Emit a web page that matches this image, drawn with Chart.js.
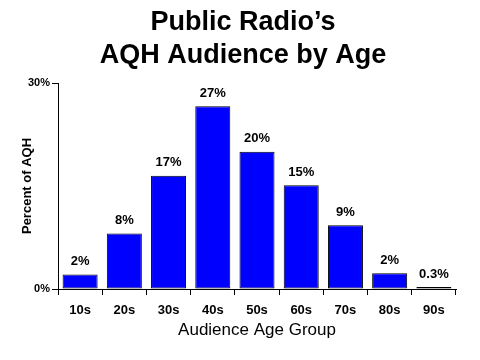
<!DOCTYPE html>
<html>
<head>
<meta charset="utf-8">
<script src="https://cdn.jsdelivr.net/npm/chart.js@4.4.1/dist/chart.umd.min.js"></script>
<style>
html,body{margin:0;padding:0;background:#fff;}
#wrap{width:480px;height:360px;}
</style>
</head>
<body>
<div id="wrap"><canvas id="c" width="480" height="360"></canvas></div>
<script>
const categories = ['10s','20s','30s','40s','50s','60s','70s','80s','90s'];
const audienceShare = [2.1, 8.1, 16.5, 26.6, 20.0, 15.1, 9.3, 2.3, 0.3];
const valueLabels = ['2%','8%','17%','27%','20%','15%','9%','2%','0.3%'];
const yTicks = [0, 30];
const titleLines = ['Public Radio\u2019s', 'AQH Audience by Age'];

const FONT = '"Liberation Sans", Arial, sans-serif';

const valueLabelPlugin = {
  id: 'valueLabels',
  afterDatasetsDraw(chart) {
    const ctx = chart.ctx;
    const meta = chart.getDatasetMeta(0);
    ctx.save();
    ctx.font = 'bold 13px ' + FONT;
    ctx.fillStyle = '#000';
    ctx.textAlign = 'center';
    ctx.textBaseline = 'middle';
    meta.data.forEach((bar, i) => {
      ctx.fillText(valueLabels[i], bar.x, bar.y - 13);
    });
    ctx.restore();
  }
};

const titlePlugin = {
  id: 'twoLineTitle',
  afterDraw(chart) {
    const ctx = chart.ctx;
    ctx.save();
    ctx.font = 'bold 27px ' + FONT;
    ctx.fillStyle = '#000';
    ctx.textAlign = 'center';
    ctx.textBaseline = 'middle';
    ctx.fillText(titleLines[0], 243, 23);
    ctx.fillText(titleLines[1], 243, 56);
    ctx.restore();
  }
};

new Chart(document.getElementById('c'), {
  type: 'bar',
  data: {
    labels: categories,
    datasets: [{
      data: audienceShare,
      backgroundColor: '#0000FF',
      borderColor: '#000000',
      borderWidth: 1,
      borderSkipped: false,
      categoryPercentage: 0.8,
      barPercentage: 0.99
    }]
  },
  options: {
    responsive: false,
    animation: false,
    devicePixelRatio: 1,
    layout: { padding: { left: 20, right: 24, top: 83, bottom: 19 } },
    plugins: {
      legend: { display: false },
      tooltip: { enabled: false },
      title: { display: false }
    },
    scales: {
      x: {
        afterFit(scale) { scale.height = 52; },
        grid: { display: true, drawOnChartArea: false, offset: true, color: '#000', tickLength: 6, tickWidth: 1 },
        border: { display: true, color: '#000', width: 1 },
        ticks: { color: '#000', font: { family: FONT, size: 13, weight: 'bold' }, padding: 8, maxRotation: 0 },
        title: {
          display: true,
          text: 'Audience Age Group',
          color: '#000',
          font: { family: FONT, size: 17, lineHeight: 1.2 },
          padding: { top: 0, bottom: 0 }
        }
      },
      y: {
        min: 0,
        max: 30,
        afterFit(scale) { scale.width = 38; },
        afterBuildTicks(scale) { scale.ticks = yTicks.map(v => ({ value: v })); },
        grid: { display: true, drawOnChartArea: false, color: '#000', tickLength: 6 },
        border: { display: true, color: '#000', width: 1 },
        ticks: {
          color: '#000',
          font: { family: FONT, size: 11, weight: 'bold' },
          padding: 2,
          callback: v => v + '%'
        },
        title: {
          display: true,
          text: 'Percent of AQH',
          color: '#000',
          font: { family: FONT, size: 13, weight: 'bold', lineHeight: 1.2 },
          padding: { top: 0, bottom: 0 }
        }
      }
    }
  },
  plugins: [valueLabelPlugin, titlePlugin]
});
</script>
</body>
</html>
